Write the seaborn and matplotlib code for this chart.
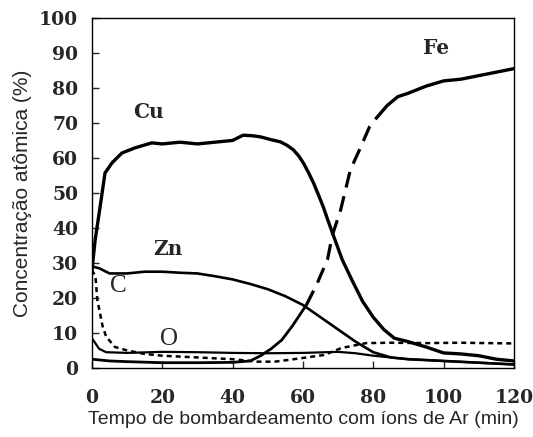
import matplotlib
matplotlib.use("Agg")
import matplotlib.pyplot as plt
import seaborn as sns
import pandas as pd

# Sputter-depth profile: atomic concentration (%) vs Ar-ion sputtering time (min)
cu_t = [0, 0.9, 2.3, 3.7, 5.7, 8.5, 12.3, 17, 20, 25, 30, 35, 40, 43, 46, 48, 51, 53.6, 55.5, 57.3,
        58.8, 60.1, 61.5, 63, 64.4, 65.8, 67, 68.4, 71.2, 74, 77, 80, 83, 86, 90, 95, 100, 105, 110,
        115, 120]
cu_v = [28, 36.6, 46, 55.7, 58.6, 61.4, 62.9, 64.3, 64, 64.5, 64, 64.5, 65, 66.5, 66.3, 66, 65.2, 64.6,
        63.6, 62.3, 60.6, 58.6, 56, 52.9, 49.5, 46, 42.5, 38.6, 30.9, 25, 19, 14.5, 11, 8.5, 7.5, 6, 4.3,
        4, 3.5, 2.5, 2]

zn_t = [0, 2, 5, 10, 15, 20, 25, 30, 35, 40, 45, 50, 55, 60, 65, 70, 75, 80, 85, 90, 100, 110, 120]
zn_v = [29, 28.5, 27, 27, 27.5, 27.5, 27.2, 27, 26.2, 25.3, 24, 22.5, 20.5, 18, 14.5, 11, 7.5, 4.5, 3, 2.5,
        2, 1.5, 1]

fe_t = [0, 5, 10, 20, 30, 40, 45, 48, 51, 54, 57, 60, 61, 64, 67, 68.4, 70.7, 73.5, 76.4, 79, 81, 84, 87,
        90, 95, 100, 105, 110, 115, 120]
fe_v = [2.5, 2, 1.8, 1.5, 1.5, 1.6, 2, 3.5, 5.5, 8, 12, 16.5, 18, 24, 31, 38, 45, 56.6, 63, 69, 71.5, 75,
        77.5, 78.5, 80.5, 82, 82.5, 83.5, 84.5, 85.5]

c_t = [0, 1, 1.5, 2.3, 3, 4, 6.5, 10, 15, 20, 30, 40, 47, 52, 56, 61, 66, 71, 75, 78, 85, 95, 105, 120]
c_v = [28, 26, 19.5, 15.5, 12, 9, 6, 5, 4, 3.5, 3, 2.5, 1.8, 1.8, 2.3, 3, 3.7, 5.7, 6.5, 7.1, 7.2, 7.1,
       7.2, 7]

o_t = [0, 2, 4, 10, 20, 30, 40, 50, 60, 70, 75, 80, 85, 90, 100, 110, 120]
o_v = [8.5, 5.5, 4.5, 4.3, 4.6, 4.5, 4.3, 4.2, 4.3, 4.6, 4.2, 3.5, 3, 2.5, 2, 1.5, 1]

x_ticks = [0, 20, 40, 60, 80, 100, 120]
y_ticks = [0, 10, 20, 30, 40, 50, 60, 70, 80, 90, 100]

cu = pd.DataFrame({"t": cu_t, "v": cu_v})
zn = pd.DataFrame({"t": zn_t, "v": zn_v})
fe = pd.DataFrame({"t": fe_t, "v": fe_v})
c = pd.DataFrame({"t": c_t, "v": c_v})
o = pd.DataFrame({"t": o_t, "v": o_v})

sns.set_style("ticks")
fig = plt.figure(figsize=(5.33, 4.37), dpi=100)
ax = fig.add_axes([0.1726, 0.158, 0.7914, 0.801])

sns.lineplot(data=cu, x="t", y="v", ax=ax, color="black", lw=2.4)
sns.lineplot(data=zn, x="t", y="v", ax=ax, color="black", lw=1.9)
sns.lineplot(data=o, x="t", y="v", ax=ax, color="black", lw=1.6)
sns.lineplot(data=c, x="t", y="v", ax=ax, color="black", lw=1.8, linestyle=(0, (2, 1.6)))

# Fe profile: solid at low concentration, dashed through the steep rise, solid on the plateau
fe_lo = fe[fe["t"] <= 61]
fe_mid = fe[(fe["t"] >= 61) & (fe["t"] <= 81)]
fe_hi = fe[fe["t"] >= 81]
sns.lineplot(data=fe_lo, x="t", y="v", ax=ax, color="black", lw=2.0)
sns.lineplot(data=fe_mid, x="t", y="v", ax=ax, color="black", lw=2.3, linestyle=(0, (5, 2.8)))
sns.lineplot(data=fe_hi, x="t", y="v", ax=ax, color="black", lw=2.4)

ax.set_xlim(0, 120)
ax.set_ylim(0, 100)
ax.set_xticks(x_ticks)
ax.set_yticks(y_ticks)
tick_font = dict(family="DejaVu Serif", weight="bold", size=13.5)
ax.set_xticklabels([str(v) for v in x_ticks], **tick_font)
ax.set_yticklabels([str(v) for v in y_ticks], **tick_font)
ax.tick_params(direction="in", length=5, width=1, top=False, right=False)
ax.tick_params(axis="x", pad=15)
ax.tick_params(axis="y", pad=10)

for s in ax.spines.values():
    s.set_linewidth(1.0)
    s.set_color("black")

ax.set_xlabel("Tempo de bombardeamento com íons de Ar (min)", labelpad=3,
              family="Liberation Sans", size=14)
ax.set_ylabel("Concentração atômica (%)", labelpad=5,
              family="Liberation Sans", size=15)

bold_font = dict(family="DejaVu Serif", weight="bold", size=14.5, ha="center", va="center")
thin_font = dict(family="Liberation Serif", size=18, ha="center", va="center")
ax.text(16, 73, "Cu", **bold_font)
ax.text(21.6, 34, "Zn", **bold_font)
ax.text(7.5, 23.5, "C", **thin_font)
ax.text(22, 8.3, "O", **thin_font)
ax.text(98, 91.5, "Fe", **bold_font)

fig.savefig("out.png", dpi=100)
